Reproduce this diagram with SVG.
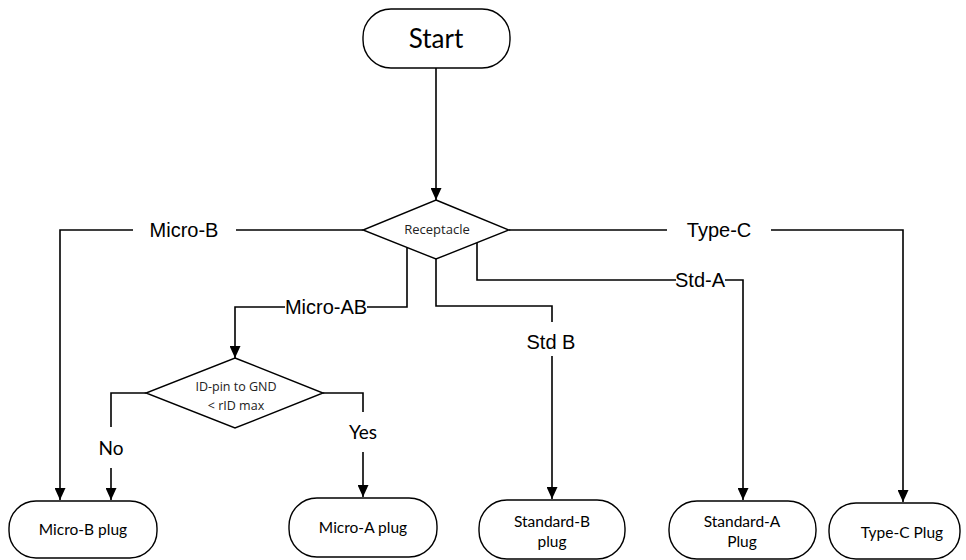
<svg xmlns="http://www.w3.org/2000/svg" width="966" height="560" viewBox="0 0 966 560">
<defs>
<marker id="arr" markerUnits="userSpaceOnUse" markerWidth="12" markerHeight="11" refX="12" refY="5.5" orient="auto">
<path d="M0,0 L12,5.5 L0,11 z" fill="#000"/>
</marker>
<style>
.box{fill:#fff;stroke:#000;stroke-width:1.4}
.ln{fill:none;stroke:#000;stroke-width:1.6}
.arr{marker-end:url(#arr)}
.lbl{font-family:"Liberation Sans",Arial,sans-serif;font-size:20px;fill:#000;text-anchor:middle}
.nt{font-family:Lato,"Open Sans",sans-serif;font-size:15.5px;fill:#000;text-anchor:middle}
.dt{font-family:"Open Sans","Noto Sans",sans-serif;fill:#222;text-anchor:middle}
.yn{font-family:Lato,"Open Sans",sans-serif;font-size:19px;fill:#000;text-anchor:middle}
</style>
</defs>
<rect width="966" height="560" fill="#fff"/>
<g id="connectors">
<path class="ln arr" d="M436,68 V200"/>
<path class="ln" d="M363,230 H236"/>
<path class="ln arr" d="M133,230 H60 V500"/>
<path class="ln" d="M509,230 H667"/>
<path class="ln arr" d="M771,230 H903 V502"/>
<path class="ln" d="M407,248 V307 H367"/>
<path class="ln arr" d="M285,307 H235 V358"/>
<path class="ln" d="M436,259 V306 H552 V322"/>
<path class="ln arr" d="M552,356 V499"/>
<path class="ln" d="M477,243 V280 H676"/>
<path class="ln arr" d="M725,280 H743 V500"/>
<path class="ln" d="M146,393 H111 V427"/>
<path class="ln arr" d="M111,468 V500"/>
<path class="ln" d="M323,393 H363 V412"/>
<path class="ln arr" d="M363,452 V497"/>
<text class="lbl" x="184" y="237">Micro-B</text>
<text class="lbl" x="719" y="237">Type-C</text>
<text class="lbl" x="326" y="314">Micro-AB</text>
<text class="lbl" x="551" y="349">Std B</text>
<text class="lbl" x="700" y="287">Std-A</text>
<text class="yn" x="111" y="455">No</text>
<text class="yn" x="363" y="439">Yes</text>
</g>
<g id="start">
<rect class="box" x="363" y="9" width="147" height="59" rx="28" ry="28"/>
<text x="436" y="48" font-family="Lato,'Open Sans',sans-serif" font-size="26" text-anchor="middle">Start</text>
</g>
<g id="receptacle">
<polygon class="box" points="436,200 509,230 436,259 363,230"/>
<text class="dt" x="437" y="234" font-size="13">Receptacle</text>
</g>
<g id="idpin">
<polygon class="box" points="235,358 323,393 235,428 146,393"/>
<text class="dt" x="236" y="391" font-size="12.5">ID-pin to GND</text>
<text class="dt" x="236" y="410" font-size="12.5">&lt; rID max</text>
</g>
<g id="microb">
<rect class="box" x="9" y="501" width="148" height="57" rx="27" ry="27"/>
<text class="nt" x="83" y="535">Micro-B plug</text>
</g>
<g id="microa">
<rect class="box" x="289" y="498" width="148" height="59" rx="28" ry="28"/>
<text class="nt" x="363" y="533">Micro-A plug</text>
</g>
<g id="stdb">
<rect class="box" x="479" y="500" width="146" height="59" rx="28" ry="28"/>
<text class="nt" x="552" y="527">Standard-B</text>
<text class="nt" x="552" y="547">plug</text>
</g>
<g id="stda">
<rect class="box" x="669" y="501" width="147" height="58" rx="28" ry="28"/>
<text class="nt" x="742" y="527">Standard-A</text>
<text class="nt" x="742" y="547">Plug</text>
</g>
<g id="typec">
<rect class="box" x="829" y="503" width="131" height="56" rx="27" ry="27"/>
<text class="nt" x="902" y="538">Type-C Plug</text>
</g>
</svg>
